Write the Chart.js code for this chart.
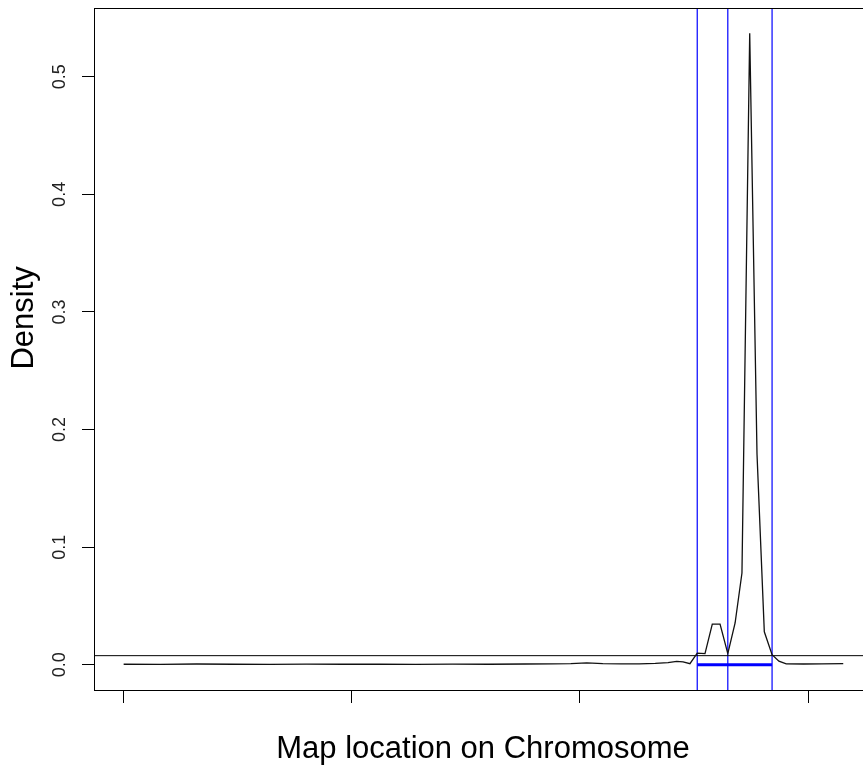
<!DOCTYPE html>
<html>
<head>
<meta charset="utf-8">
<script src="https://cdn.jsdelivr.net/npm/chart.js@4/dist/chart.umd.min.js"></script>
<style>
  html, body { margin: 0; padding: 0; background: #fff; overflow: hidden; }
  #wrap { width: 900px; height: 768px; }
</style>
</head>
<body>
<div id="wrap"><canvas id="c" width="900" height="768"></canvas></div>
<script>
// ---- data ----
const mapPositions = [0, 8, 16, 24, 32, 40, 48, 56, 64, 72, 80, 88, 94, 98, 101.5, 105, 109, 113, 116.5, 119.3, 121.2, 122.6, 124.1,
  125.7, 127.4, 129.0, 130.7, 132.4, 134.0, 135.5, 137.2, 138.8, 140.4, 142.1, 143.6, 145.2, 149, 153, 157.7];
const densityValues = [0.0004, 0.0003, 0.0006, 0.0004, 0.0003, 0.0005, 0.0004, 0.0004, 0.0003, 0.0005, 0.0004, 0.0006, 0.0008, 0.0010, 0.0016, 0.0009, 0.0007, 0.0008, 0.0012, 0.0018, 0.0028, 0.0024, 0.0009,
  0.0099, 0.0094, 0.0346, 0.0346, 0.0094, 0.0355, 0.078, 0.537, 0.179, 0.028, 0.0085, 0.003, 0.0007, 0.0006, 0.0008, 0.0009];
const intervalLines = [125.7, 132.4, 142.1];   // blue vertical lines
const intervalBar = [125.7, 142.1];            // blue bar at density 0
const thresholdDensity = 0.0077;               // horizontal black line
const xTickValues = [0, 50, 100, 150];
const yTickValues = [0, 0.1, 0.2, 0.3, 0.4, 0.5];
const xRange = [-6.5, 164];
const yRange = [-0.0215, 0.5585];
const xTitle = 'Map location on Chromosome';
const yTitle = 'Density';
const yTitleCenterValue = 0.295;   // the reference's y label sits a little above the middle of the axis

const FONT = "'Liberation Sans', Arial, Helvetica, sans-serif";

const datasets = [];
datasets.push({
  data: mapPositions.map((x, i) => ({ x: x, y: densityValues[i] })),
  borderColor: '#111', borderWidth: 1.3, pointRadius: 0, showLine: true, tension: 0
});
datasets.push({
  data: [{ x: xRange[0], y: thresholdDensity }, { x: xRange[1], y: thresholdDensity }],
  borderColor: '#000', borderWidth: 1, pointRadius: 0, showLine: true
});
datasets.push({
  data: intervalBar.map(x => ({ x: x, y: 0 })),
  borderColor: '#0000ff', borderWidth: 3, pointRadius: 0, showLine: true
});
intervalLines.forEach(x => {
  datasets.push({
    data: [{ x: x, y: yRange[0] }, { x: x, y: yRange[1] }],
    borderColor: '#0000ff', borderWidth: 1.2, pointRadius: 0, showLine: true
  });
});

const boxPlugin = {
  id: 'box',
  afterDraw(chart) {
    const a = chart.chartArea, ctx = chart.ctx;
    ctx.save();
    ctx.strokeStyle = '#000';
    ctx.lineWidth = 1;
    ctx.strokeRect(Math.round(a.left) + 0.5, Math.round(a.top) + 0.5, Math.round(a.right - a.left), Math.round(a.bottom - a.top));
    // y axis title, placed where the reference has it
    const ys = chart.scales.y;
    ctx.translate(ys.left + 24, ys.getPixelForValue(yTitleCenterValue));
    ctx.rotate(-Math.PI / 2);
    ctx.fillStyle = '#000';
    ctx.font = '31px ' + FONT;
    ctx.textAlign = 'center';
    ctx.textBaseline = 'middle';
    ctx.fillText(yTitle, 0, 0);
    ctx.restore();
  }
};

new Chart(document.getElementById('c'), {
  type: 'scatter',
  data: { datasets: datasets },
  plugins: [boxPlugin],
  options: {
    responsive: false,
    animation: false,
    devicePixelRatio: 1,
    layout: { padding: { top: 8, right: 28, left: 0, bottom: 0 } },
    plugins: { legend: { display: false }, tooltip: { enabled: false } },
    scales: {
      x: {
        type: 'linear', min: xRange[0], max: xRange[1],
        afterBuildTicks: s => { s.ticks = xTickValues.map(v => ({ value: v })); },
        afterFit: s => { s.height = 78; s.paddingLeft = 0; s.paddingRight = 0; },
        ticks: { display: false },
        grid: { display: true, drawOnChartArea: false, drawTicks: true, tickLength: 13, color: '#000', lineWidth: 1 },
        border: { display: false },
        title: { display: true, text: xTitle, color: '#000', font: { family: FONT, size: 31 }, padding: { top: 0, bottom: 0 } }
      },
      y: {
        type: 'linear', min: yRange[0], max: yRange[1],
        afterBuildTicks: s => { s.ticks = yTickValues.map(v => ({ value: v })); },
        afterFit: s => { s.width = 94; s.paddingTop = 0; s.paddingBottom = 0; },
        ticks: {
          display: true, minRotation: 90, maxRotation: 90, crossAlign: 'center', padding: 9,
          color: '#222', font: { family: FONT, size: 18 },
          callback: v => Number(v).toFixed(1)
        },
        grid: { display: true, drawOnChartArea: false, drawTicks: true, tickLength: 12, color: '#000', lineWidth: 1 },
        border: { display: false },
        title: { display: false, text: yTitle }
      }
    }
  }
});
</script>
</body>
</html>
